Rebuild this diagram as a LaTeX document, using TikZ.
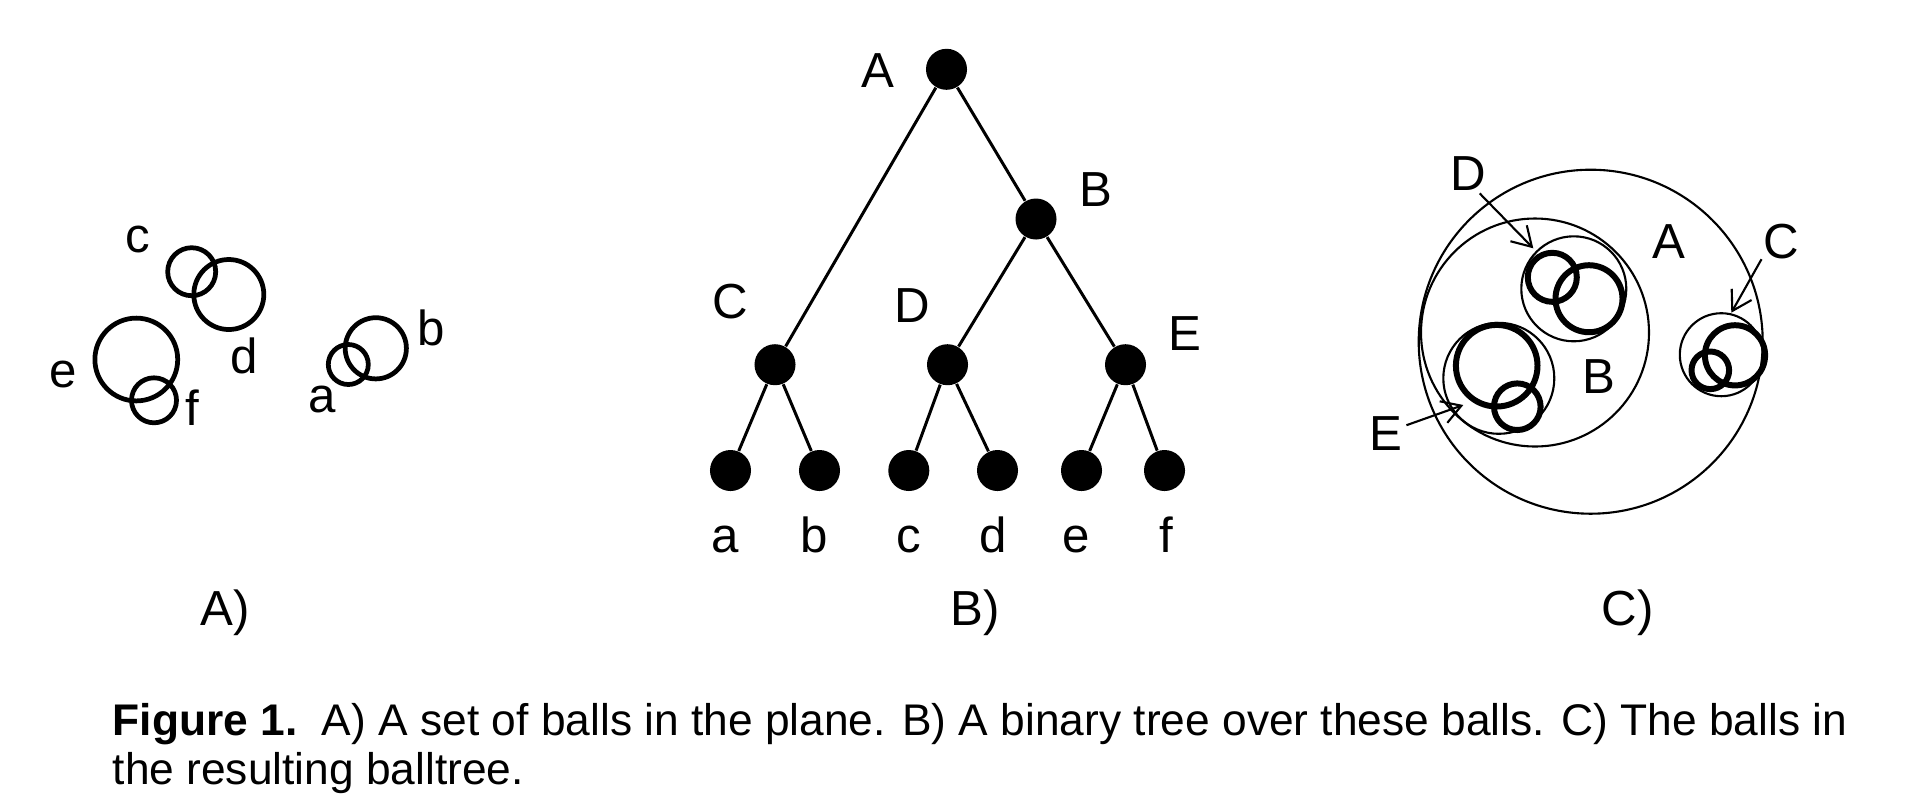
\documentclass[tikz,border=0pt]{standalone}
\usepackage{fontspec}
\setmainfont{Liberation Sans}
\usepackage{tikz}
\usetikzlibrary{arrows.meta}
\newcommand{\lblfont}{\fontsize{14}{16}\selectfont}
\newcommand{\capfont}{\fontsize{12.6}{14.5}\selectfont}

\begin{document}
\begin{tikzpicture}[x=0.01cm,y=-0.01cm,
  ball/.style={line width=1.35pt},
  hull/.style={line width=0.6pt},
  tnode/.style={circle,fill=black,inner sep=0pt,minimum size=0.41cm},
  edge/.style={line width=0.85pt},
  lbl/.style={font=\lblfont,inner sep=0pt},
  arr/.style={-{Straight Barb[length=5.4pt,width=6.5pt]},line width=0.6pt,shorten <=1pt}]
  \useasboundingbox (0,0) rectangle (1924,811);
  % A) balls in the plane
  \foreach \p/\r in {{191.7,271.7}/24,{228.8,294.5}/35,{136.3,359.5}/41.4,{154,400.3}/22.5,{348.3,364.5}/20,{375.8,348.3}/30.6}
    \draw[ball] (\p) circle (\r);
  \foreach \n/\t/\p in {pc/c/{138.3,239.2},pd/d/{244.3,355.8},pe/e/{63.3,374.2},pf/f/{192.5,407.5},pa/a/{321.7,399.2},pb/b/{430.8,328.3}}
    \node[lbl] (\n) at (\p) {\t};
  % B) the binary tree
  \node[tnode] (tA) at (946.5,69.3) {};
  \node[tnode] (tB) at (1036,219) {};
  \node[tnode] (tC) at (775,364.7) {};
  \node[tnode] (tD) at (947.5,364.7) {};
  \node[tnode] (tE) at (1125.5,364.7) {};
  \foreach \n/\x in {a/730.5,b/819.5,c/908.8,d/997.5,e/1081.5,f/1164.5}
    \node[tnode] (l\n) at (\x,470.5) {};
  \foreach \u/\v in {tA/tB,tA/tC,tB/tD,tB/tE,tC/la,tC/lb,tD/lc,tD/ld,tE/le,tE/lf}
    \draw[edge] (\u) -- (\v);
  \foreach \n/\p in {A/{877.5,71},B/{1096,189.5},C/{730,301.5},D/{912.5,306},E/{1184.5,333.5}}
    \node[lbl] (n\n) at (\p) {\n};
  \foreach \n/\x in {a/725,b/814,c/908.4,d/992.8,e/1076.5,f/1166.2}
    \node[lbl,anchor=base] (m\n) at (\x,552) {\n};
  % C) the balls of the balltree
  \foreach \p/\r in {{1552.3,277.3}/24.5,{1589,298.7}/33.5,{1496.7,365.7}/40.8,{1517.3,406.7}/23.3,{1710.3,370.3}/18.8,{1735,355.3}/30.1}
    \draw[ball,line width=1.7pt] (\p) circle (\r);
  \foreach \p/\r in {{1590.7,341.7}/172,{1535,332.5}/114,{1573.8,288.8}/52.5,{1498.8,378.3}/55.5,{1721.3,354.7}/41.5}
    \draw[hull] (\p) circle (\r);
  \foreach \n/\p in {D/{1468.3,173.3},A/{1669.3,241.7},C/{1781.7,241.7},B/{1599.3,376.7},E/{1386,433.3}}
    \node[lbl] (c\n) at (\p) {\n};
  \coordinate (dtip) at (1533.3,248.3);
  \coordinate (ctip) at (1731.3,312.7);
  \coordinate (etip) at (1463.3,405);
  \draw[arr] (cD.-63) -- (dtip);
  \draw[arr] (cC.-142) -- (ctip);
  \draw[arr] (cE.22) -- (etip);
  % panel letters
  \node[lbl,anchor=base] (capA) at (225,625) {A)};
  \node[lbl,anchor=base] (capB) at (975,625) {B)};
  \node[lbl,anchor=base] (capC) at (1627.5,625) {C)};
  % caption
  \node[font=\capfont,inner sep=0pt,anchor=base west] (fig1) at (112,735)
    {\textbf{Figure 1.}\ \ A) A set of balls in the plane. B) A binary tree over these balls. C) The balls in};
  \node[font=\capfont,inner sep=0pt,anchor=base west] (fig2) at (112,784) {the resulting balltree.};
\end{tikzpicture}
\end{document}
